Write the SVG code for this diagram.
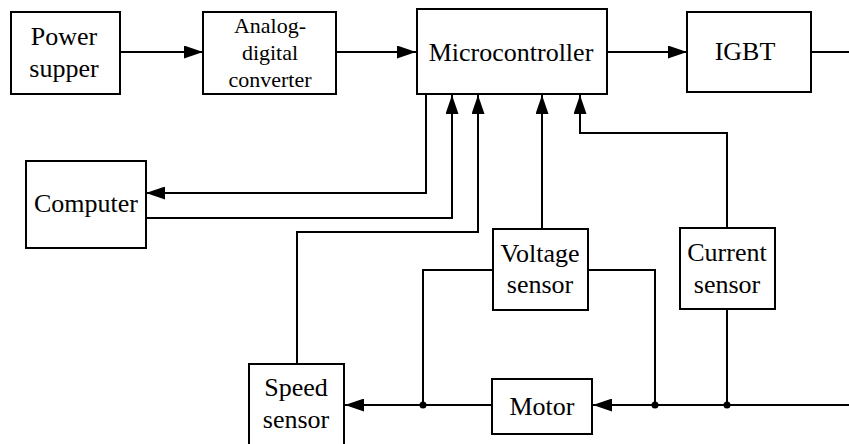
<svg xmlns="http://www.w3.org/2000/svg" width="849" height="444" viewBox="0 0 849 444">
<style>
.box{fill:#fff;stroke:#000;stroke-width:2}
.t{font-family:"Liberation Serif","Times New Roman",serif;font-size:26px;fill:#000;text-anchor:middle}
.s{font-size:22px}
.w{fill:none;stroke:#000;stroke-width:2}
.dot{fill:#000}
</style>
<defs>
<marker id="ah" markerUnits="userSpaceOnUse" markerWidth="19" markerHeight="13" refX="19" refY="6.5" orient="auto">
<path d="M0,0 L19,6.5 L0,13 z" fill="#000"/>
</marker>
</defs>
<g id="connectors">
<path class="w" d="M120,52 H203" marker-end="url(#ah)"/>
<path class="w" d="M336,52 H416" marker-end="url(#ah)"/>
<path class="w" d="M607,52 H687" marker-end="url(#ah)"/>
<path class="w" d="M811,52 H849"/>
<path class="w" d="M426,94 V193 H146" marker-end="url(#ah)"/>
<path class="w" d="M146,218 H452 V95" marker-end="url(#ah)"/>
<path class="w" d="M297,364 V232 H478 V95" marker-end="url(#ah)"/>
<path class="w" d="M542,229 V95" marker-end="url(#ah)"/>
<path class="w" d="M727,228 V133 H580 V95" marker-end="url(#ah)"/>
<path class="w" d="M493,270 H423 V405"/>
<path class="w" d="M588,270 H655 V405"/>
<path class="w" d="M727,309 V405"/>
<path class="w" d="M849,405 H593" marker-end="url(#ah)"/>
<path class="w" d="M492,405 H345" marker-end="url(#ah)"/>
<circle class="dot" cx="423" cy="405" r="3.5"/>
<circle class="dot" cx="655" cy="405" r="3.5"/>
<circle class="dot" cx="727" cy="405" r="3.5"/>
</g>
<g id="power">
<rect class="box" x="11" y="12" width="109" height="82"/>
<text class="t" x="64" y="45">Power</text>
<text class="t" x="64" y="77">supper</text>
</g>
<g id="adc">
<rect class="box" x="203" y="12" width="133" height="82"/>
<text class="t s" x="270" y="33">Analog-</text>
<text class="t s" x="270" y="60">digital</text>
<text class="t s" x="270" y="87">converter</text>
</g>
<g id="micro">
<rect class="box" x="417" y="9" width="190" height="85"/>
<text class="t" x="511" y="61">Microcontroller</text>
</g>
<g id="igbt">
<rect class="box" x="687" y="12" width="124" height="80"/>
<text class="t" x="745" y="60">IGBT</text>
</g>
<g id="computer">
<rect class="box" x="26" y="161" width="120" height="87"/>
<text class="t" x="86" y="212">Computer</text>
</g>
<g id="voltage">
<rect class="box" x="493" y="229" width="95" height="81"/>
<text class="t" x="540" y="262">Voltage</text>
<text class="t" x="540" y="293">sensor</text>
</g>
<g id="current">
<rect class="box" x="680" y="228" width="95" height="81"/>
<text class="t" x="727" y="261">Current</text>
<text class="t" x="727" y="293">sensor</text>
</g>
<g id="motor">
<rect class="box" x="492" y="379" width="100" height="55"/>
<text class="t" x="542" y="415">Motor</text>
</g>
<g id="speed">
<rect class="box" x="249" y="364" width="95" height="90"/>
<text class="t" x="296" y="396">Speed</text>
<text class="t" x="296" y="428">sensor</text>
</g>
</svg>
